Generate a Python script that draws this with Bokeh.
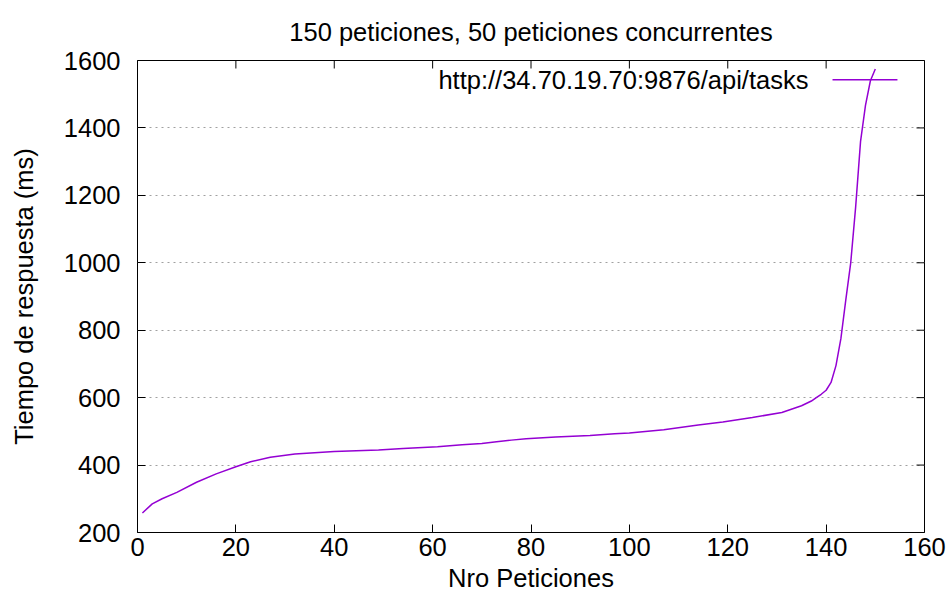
import math
from bokeh.plotting import figure
from bokeh.models import FixedTicker, Range1d, Label, Arrow
from bokeh.embed import file_html
from bokeh.resources import INLINE

# ---- data ----
peticiones = [1, 3, 5, 8, 12, 16, 20, 23, 27, 32, 40, 49, 54, 61, 66, 70, 73, 76, 79,
              85, 92, 97, 100, 107, 114, 119, 125, 131, 135, 137, 138, 139, 140, 141,
              142, 143, 144, 145, 146, 147, 148, 149, 150]
tiempo_ms = [258, 285, 300, 319, 349, 374, 395, 410, 423, 433, 440, 445, 449, 454, 460,
             464, 469, 474, 478, 483, 488, 493, 495, 505, 519, 528, 541, 556, 576, 590,
             600, 610, 622, 645, 695, 775, 890, 1000, 1165, 1360, 1467, 1540, 1575]
x_ticks = [0, 20, 40, 60, 80, 100, 120, 140, 160]
y_ticks = [200, 400, 600, 800, 1000, 1200, 1400, 1600]
title_text = "150 peticiones, 50 peticiones concurrentes"
x_label = "Nro Peticiones"
y_label = "Tiempo de respuesta (ms)"
series_name = "http://34.70.19.70:9876/api/tasks"

FONT = "Liberation Sans"
FS = "25.5px"
LINE_COLOR = "#9400d3"
X_MIN, X_MAX = 0, 160
Y_MIN, Y_MAX = 200, 1600

p = figure(width=952, height=604, output_backend="svg", toolbar_location=None,
           x_range=Range1d(X_MIN, X_MAX), y_range=Range1d(Y_MIN, Y_MAX),
           min_border_left=137, min_border_right=28, min_border_top=59,
           min_border_bottom=72, title=title_text)

p.title.text_font = FONT
p.title.text_font_size = FS
p.title.text_font_style = "normal"
p.title.align = "center"
p.title.text_color = "#000000"
p.title.standoff = 30

bottom_axis = p.below[0]
left_axis = p.left[0]

p.outline_line_color = "#000000"
p.outline_line_width = 1
p.background_fill_color = "white"
p.border_fill_color = "white"

for ax in (bottom_axis, left_axis):
    ax.axis_line_color = None
    ax.major_tick_in = 8
    ax.major_tick_out = 0
    ax.minor_tick_line_color = None
    ax.major_tick_line_color = "#000000"
    ax.major_label_text_font = FONT
    ax.major_label_text_font_size = FS
    ax.major_label_text_color = "#000000"
    ax.axis_label_text_font = FONT
    ax.axis_label_text_font_size = FS
    ax.axis_label_text_font_style = "normal"
    ax.axis_label_text_color = "#000000"

bottom_axis.ticker = FixedTicker(ticks=x_ticks)
left_axis.ticker = FixedTicker(ticks=y_ticks)
bottom_axis.axis_label = x_label
left_axis.axis_label = y_label
bottom_axis.major_label_standoff = 5
bottom_axis.axis_label_standoff = 5
left_axis.major_label_standoff = 17
left_axis.axis_label_standoff = 23

p.xgrid.grid_line_color = None
p.ygrid.ticker = FixedTicker(ticks=y_ticks)
p.ygrid.grid_line_color = "#a0a0a0"
p.ygrid.grid_line_dash = "2 4"
p.ygrid.grid_line_width = 1

# mirrored inward ticks on top and right borders (clipped to the frame)
p.scatter(x=x_ticks, y=[Y_MAX] * len(x_ticks), marker="dash", angle=math.pi / 2,
          size=16, line_color="#000000", line_width=1)
p.scatter(x=[X_MAX] * len(y_ticks), y=y_ticks, marker="dash",
          size=16, line_color="#000000", line_width=1)

p.line(peticiones, tiempo_ms, line_color=LINE_COLOR, line_width=1.5)

# gnuplot-style key: text then sample line
key_y = 1543
p.add_layout(Label(x=136.4, y=key_y, text=series_name, text_align="right",
                   text_baseline="middle", text_font=FONT, text_font_size=FS,
                   text_color="#000000"))
p.add_layout(Arrow(end=None, x_start=141.3, y_start=key_y, x_end=154.5, y_end=key_y,
                   line_color=LINE_COLOR, line_width=1.5))

open("out.html", "w").write(file_html(p, INLINE))
